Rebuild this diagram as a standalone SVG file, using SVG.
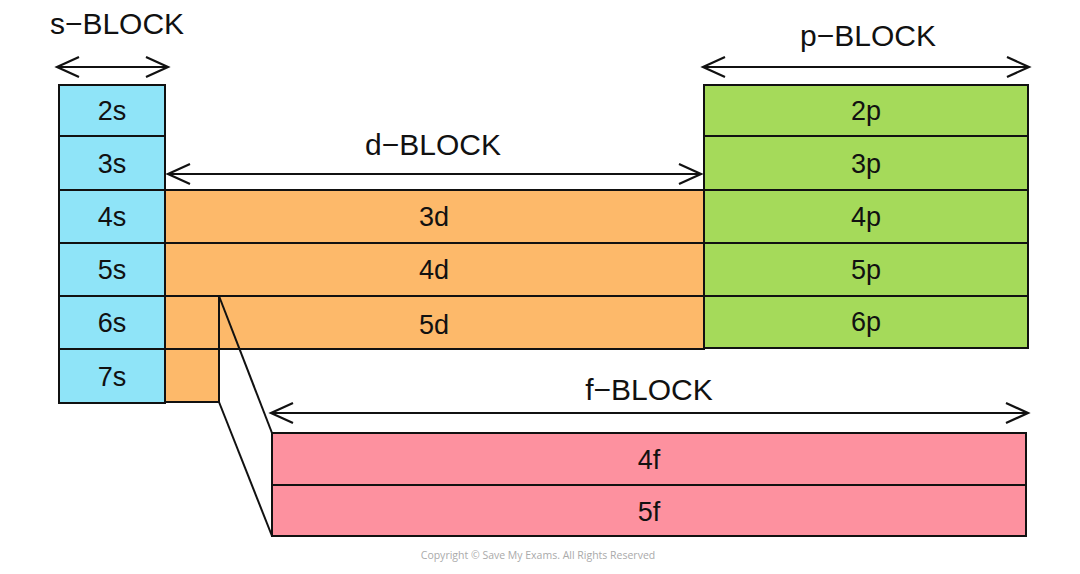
<svg xmlns="http://www.w3.org/2000/svg" width="1080" height="574" viewBox="0 0 1080 574">
<style>
.cell{stroke:#111;stroke-width:2}
.s{fill:#8fe4f8}.d{fill:#fdb96a}.p{fill:#a5da5a}.f{fill:#fd919f}
.lbl{font-family:"Liberation Sans",Arial,sans-serif;font-size:27px;fill:#111;text-anchor:middle}
.title{font-family:"Liberation Sans",Arial,sans-serif;font-size:30px;fill:#111;text-anchor:middle}
.arr{stroke:#111;stroke-width:2;fill:none}
.copy{font-family:"Open Sans","Liberation Sans",sans-serif;font-size:10.5px;fill:#aaa;text-anchor:middle}
</style>
<defs>
<marker id="ah" markerWidth="26" markerHeight="24" refX="23" refY="12" orient="auto-start-reverse" markerUnits="userSpaceOnUse">
<path d="M1,2 L23,12 L1,22" fill="none" stroke="#111" stroke-width="2.2"/>
</marker>
</defs>
<rect width="1080" height="574" fill="#fff"/>
<g id="s-block">
<rect class="cell s" x="59" y="85" width="106" height="51"/>
<rect class="cell s" x="59" y="136" width="106" height="54"/>
<rect class="cell s" x="59" y="190" width="106" height="53"/>
<rect class="cell s" x="59" y="243" width="106" height="53"/>
<rect class="cell s" x="59" y="296" width="106" height="53"/>
<rect class="cell s" x="59" y="349" width="106" height="54"/>
<text class="lbl" x="112" y="120">2s</text>
<text class="lbl" x="112" y="173">3s</text>
<text class="lbl" x="112" y="226">4s</text>
<text class="lbl" x="112" y="279">5s</text>
<text class="lbl" x="112" y="332">6s</text>
<text class="lbl" x="112" y="386">7s</text>
<text class="title" x="117" y="34">s−BLOCK</text>
</g>
<g id="d-block">
<rect class="cell d" x="165" y="190" width="539" height="53"/>
<rect class="cell d" x="165" y="243" width="539" height="53"/>
<rect class="cell d" x="165" y="296" width="539" height="53"/>
<rect class="cell d" x="165" y="349" width="54" height="53"/>
<line class="arr" x1="219" y1="296" x2="219" y2="349"/>
<text class="lbl" x="434" y="226">3d</text>
<text class="lbl" x="434" y="279">4d</text>
<text class="lbl" x="434" y="334">5d</text>
<text class="title" x="433" y="155">d−BLOCK</text>
</g>
<g id="p-block">
<rect class="cell p" x="704" y="85" width="324" height="51"/>
<rect class="cell p" x="704" y="136" width="324" height="54"/>
<rect class="cell p" x="704" y="190" width="324" height="53"/>
<rect class="cell p" x="704" y="243" width="324" height="53"/>
<rect class="cell p" x="704" y="296" width="324" height="52"/>
<text class="lbl" x="866" y="120">2p</text>
<text class="lbl" x="866" y="173">3p</text>
<text class="lbl" x="866" y="226">4p</text>
<text class="lbl" x="866" y="279">5p</text>
<text class="lbl" x="866" y="331">6p</text>
<text class="title" x="868" y="46">p−BLOCK</text>
</g>
<g id="f-block">
<rect class="cell f" x="272" y="433" width="754" height="52"/>
<rect class="cell f" x="272" y="485" width="754" height="51"/>
<text class="lbl" x="649" y="469">4f</text>
<text class="lbl" x="649" y="521">5f</text>
<text class="title" x="649" y="400">f−BLOCK</text>
</g>
<g id="connectors">
<line class="arr" x1="57" y1="67" x2="168" y2="67" marker-start="url(#ah)" marker-end="url(#ah)"/>
<line class="arr" x1="703" y1="67" x2="1029" y2="67" marker-start="url(#ah)" marker-end="url(#ah)"/>
<line class="arr" x1="168" y1="174" x2="701" y2="174" marker-start="url(#ah)" marker-end="url(#ah)"/>
<line class="arr" x1="271" y1="413" x2="1028" y2="413" marker-start="url(#ah)" marker-end="url(#ah)"/>
<line class="arr" x1="219" y1="296" x2="272" y2="433"/>
<line class="arr" x1="219" y1="402" x2="272" y2="536"/>
</g>
<text class="copy" x="538" y="559">Copyright © Save My Exams. All Rights Reserved</text>
</svg>
